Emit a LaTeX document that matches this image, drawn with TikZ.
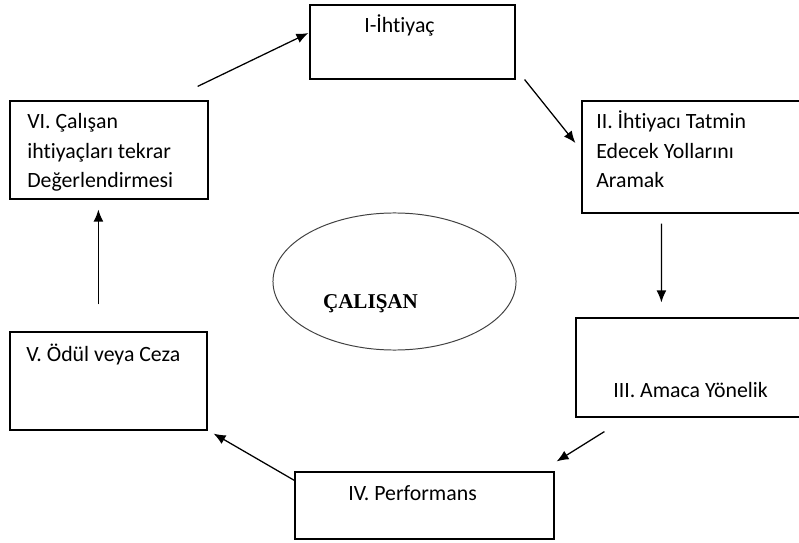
\documentclass[tikz,border=0pt]{standalone}
\usepackage{fontspec}
\setmainfont{Carlito}[Ligatures=NoCommon]
\newfontfamily\baslikfont{Liberation Serif}
\usetikzlibrary{calc,shapes.geometric,arrows.meta}

\tikzset{
  kutu/.style={draw=black, line width=0.8pt, inner sep=0pt},
  yazi/.style={anchor=base west, inner sep=0pt, align=left, font=\fontsize{15.5}{21.3}\selectfont},
  ok/.style={-{Latex[length=8.5pt,width=7pt]}, line width=0.9pt}
}

\begin{document}
\begin{tikzpicture}[x=0.025cm, y=-0.025cm]
			\useasboundingbox (0,0) rectangle (799,543);
			
			%%%%% kutular %%%%%
			\node[kutu, minimum width=5.125cm, minimum height=1.85cm] (ihtiyac) at (412.5,42) {};
			\node[kutu, minimum width=5.475cm, minimum height=2.8cm] (yollar) at (691.5,157) {};
			\node[kutu, minimum width=5.625cm, minimum height=2.475cm] (amac) at (688.5,367.5) {};
			\node[kutu, minimum width=6.475cm, minimum height=1.675cm] (perf) at (424.5,505.5) {};
			\node[kutu, minimum width=4.925cm, minimum height=2.45cm] (odul) at (108.5,381) {};
			\node[kutu, minimum width=4.95cm, minimum height=2.45cm] (degerl) at (109,150) {};
			
			\node[draw=black!75, ellipse, line width=0.7pt, inner sep=0pt, minimum width=6.075cm, minimum height=3.425cm] (calisan) at (394.5,281.5) {};
			
			%%%%% yazilar (base = son satir) %%%%%
			\node[yazi] (t1) at (364,33) {I-İhtiyaç};
			\node[yazi] (t2) at (596,188) {II. İhtiyacı Tatmin\\Edecek Yollarını\\Aramak};
			\node[yazi] (t3) at (613,397) {III. Amaca Yönelik};
			\node[yazi] (t4) at (348,500) {IV. Performans};
			\node[yazi] (t5) at (26,361) {V. Ödül veya Ceza};
			\node[yazi] (t6) at (27,188) {VI. Çalışan\\ihtiyaçları tekrar\\Değerlendirmesi};
			\node[anchor=base, inner sep=0pt, font=\baslikfont\bfseries\fontsize{15}{18}\selectfont] (t0) at (370.5,308) {ÇALIŞAN};
			
			%%%%% oklar %%%%%
			\draw[ok] ($(degerl.north east)+(-11,-14)$) -- ($(ihtiyac.west)+(-1,-9)$);
			\draw[ok] ($(ihtiyac.south east)+(9,0)$) -- ($(yollar.west)+(-6,-14)$);
			\draw[ok] ($(yollar.south west)+(80,10)$) -- ($(amac.north west)+(86,-15)$);
			\draw[ok] ($(amac.south west)+(29,14)$) -- ($(perf.north east)+(2,-10)$);
			\draw[ok] ($(perf.north west)+(0,9)$) -- ($(odul.south east)+(6,3)$);
			\draw[ok] ($(odul.north west)+(89,-27)$) -- ($(degerl.south west)+(89,10)$);
			
\end{tikzpicture}
\end{document}
